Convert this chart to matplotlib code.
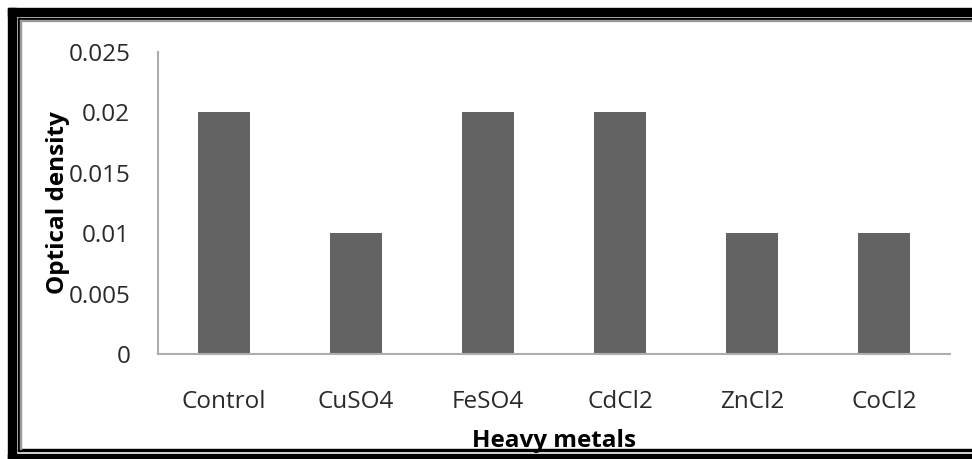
import matplotlib
matplotlib.use('Agg')
import matplotlib.pyplot as plt
from matplotlib.patches import Rectangle

# Data
metals = ['Control', 'CuSO4', 'FeSO4', 'CdCl2', 'ZnCl2', 'CoCl2']
optical_density = [0.02, 0.01, 0.02, 0.02, 0.01, 0.01]
yticks = [0, 0.005, 0.01, 0.015, 0.02, 0.025]
ytick_labels = ['0', '0.005', '0.01', '0.015', '0.02', '0.025']

plt.rcParams['font.family'] = ['Open Sans', 'DejaVu Sans']

W, H = 972, 459
fig = plt.figure(figsize=(W / 100, H / 100), dpi=100)
ax = fig.add_axes([158 / W, 1 - 354 / H, (950 - 158) / W, (354 - 52) / H])

ax.bar(range(len(metals)), optical_density, width=0.39, color='#636363')
ax.set_xlim(-0.5, len(metals) - 0.5)
ax.set_ylim(0, 0.025)
ax.set_yticks(yticks)
ax.set_yticklabels(ytick_labels, fontsize=17.5, color='#2a2a2a')
ax.set_xticks(range(len(metals)))
ax.set_xticklabels(metals, fontsize=17.5, color='#2a2a2a')
ax.tick_params(length=0, pad=26, axis='x')
ax.tick_params(length=0, pad=20, axis='y')

for s in ['top', 'right']:
    ax.spines[s].set_visible(False)
for s in ['left', 'bottom']:
    ax.spines[s].set_color('#adadad')
    ax.spines[s].set_linewidth(1.5)

ax.set_xlabel('Heavy metals', fontsize=17.5, fontweight='bold', labelpad=11)
ax.set_ylabel('Optical density', fontsize=17.5, fontweight='bold', labelpad=-1)

# Frame around the picture (pixel coordinates turned into figure fractions)
def box(x0, y0, x1, y1, color):
    fig.patches.append(Rectangle((x0 / W, 1 - y1 / H), (x1 - x0) / W, (y1 - y0) / H,
                                 transform=fig.transFigure, color=color, zorder=10))

box(8, 8, W, 16, 'black')        # top thick
box(8, 8, 16, 459, 'black')      # left thick
box(8, 454, W, 459, 'black')     # bottom thick
box(18, 18, W, 19.5, 'black')    # top thin
box(18, 18, 19.5, 451, 'black')  # left thin
box(18, 449, W, 450.5, 'black')  # bottom thin
box(20, 20, W, 21, '#9a9a9a')
box(20, 20, 21, 449, '#9a9a9a')

fig.savefig('out.png', dpi=100)
